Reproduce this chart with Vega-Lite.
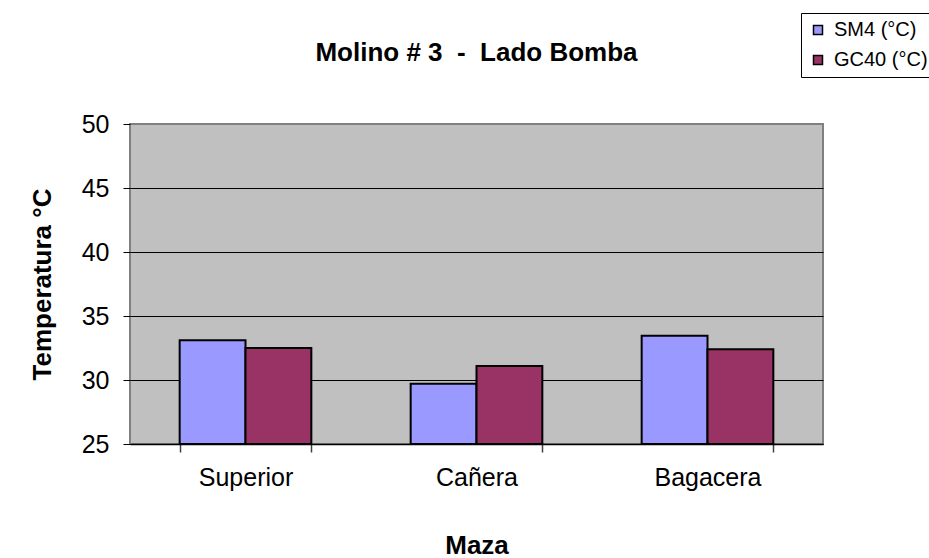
{
  "$schema": "https://vega.github.io/schema/vega-lite/v6.json",
  "autosize": {"type": "none"},
  "width": 693,
  "height": 320,
  "padding": {"left": 130, "top": 124, "right": 106, "bottom": 114},
  "background": "white",
  "title": {
    "text": "Molino # 3\u00a0\u00a0-\u00a0\u00a0Lado Bomba",
    "font": "Liberation Sans",
    "fontSize": 26,
    "fontWeight": "bold",
    "color": "black",
    "anchor": "middle",
    "frame": "group",
    "offset": -53
  },
  "data": {
    "values": [
      {"maza": "Superior", "serie": "SM4 (°C)", "temp": 33.1},
      {"maza": "Superior", "serie": "GC40 (°C)", "temp": 32.5},
      {"maza": "Cañera", "serie": "SM4 (°C)", "temp": 29.7},
      {"maza": "Cañera", "serie": "GC40 (°C)", "temp": 31.1},
      {"maza": "Bagacera", "serie": "SM4 (°C)", "temp": 33.45},
      {"maza": "Bagacera", "serie": "GC40 (°C)", "temp": 32.4}
    ]
  },
  "mark": {"type": "bar", "stroke": "black", "strokeWidth": 2},
  "encoding": {
    "x": {
      "field": "maza",
      "type": "nominal",
      "sort": ["Superior", "Cañera", "Bagacera"],
      "scale": {"paddingInner": 0.43, "paddingOuter": 0.215},
      "axis": {
        "title": "Maza",
        "labelAngle": 0,
        "tickBand": "extent",
        "tickSize": 8,
        "tickColor": "#404040",
        "tickWidth": 1.5,
        "domainColor": "black",
        "domainWidth": 1.5,
        "labelPadding": 13,
        "titlePadding": 42
      }
    },
    "xOffset": {
      "field": "serie",
      "type": "nominal",
      "sort": ["SM4 (°C)", "GC40 (°C)"],
      "scale": {"paddingInner": 0, "paddingOuter": 0}
    },
    "y": {
      "field": "temp",
      "type": "quantitative",
      "scale": {"domain": [25, 50], "zero": false, "nice": false},
      "axis": {
        "title": "Temperatura °C",
        "values": [25, 30, 35, 40, 45, 50],
        "grid": true,
        "gridColor": {"condition": {"test": "datum.value == 50", "value": "#808080"}, "value": "black"},
        "gridWidth": 1,
        "domain": false,
        "tickSize": 7,
        "tickColor": "black",
        "tickWidth": 1,
        "labelPadding": 14,
        "titlePadding": 26
      }
    },
    "y2": {"datum": 25},
    "color": {
      "field": "serie",
      "type": "nominal",
      "scale": {"domain": ["SM4 (°C)", "GC40 (°C)"], "range": ["#9999FF", "#993366"]},
      "legend": {
        "title": null,
        "orient": "none",
        "legendX": 671,
        "legendY": -111,
        "direction": "vertical",
        "fillColor": "white",
        "strokeColor": "black",
        "padding": 7,
        "symbolType": "square",
        "symbolSize": 81,
        "symbolStrokeColor": "black",
        "symbolStrokeWidth": 1.5,
        "symbolOpacity": 1,
        "labelFont": "Liberation Sans",
        "labelFontSize": 20,
        "labelColor": "black",
        "labelOffset": 6,
        "rowPadding": 10,
        "labelLimit": 300
      }
    }
  },
  "config": {
    "view": {"fill": "#C0C0C0", "stroke": "#808080", "strokeWidth": 2},
    "axis": {
      "labelFont": "Liberation Sans",
      "labelFontSize": 25,
      "labelColor": "black",
      "titleFont": "Liberation Sans",
      "titleFontSize": 26,
      "titleFontWeight": "bold",
      "titleColor": "black"
    }
  }
}
